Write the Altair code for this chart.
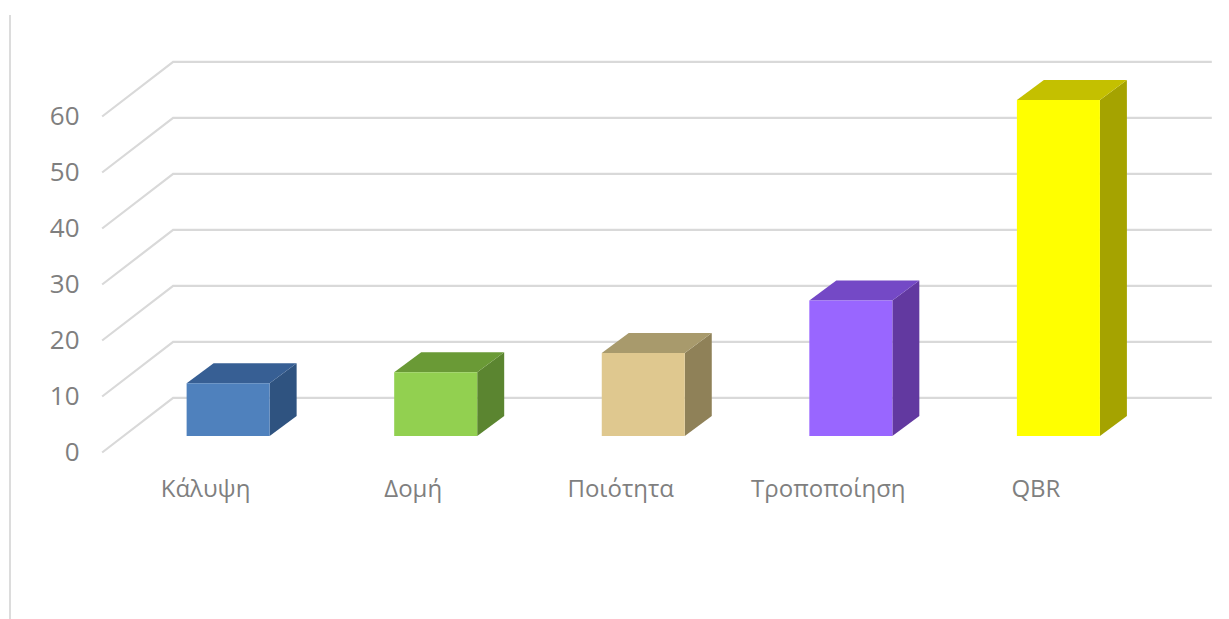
import altair as alt
import pandas as pd

categories = ["Κάλυψη", "Δομή", "Ποιότητα", "Τροποποίηση", "QBR"]
values = [9.4, 11.4, 14.8, 24.2, 60.0]
ticks = [0, 10, 20, 30, 40, 50, 60]
front_colors = ["#4f81bd", "#92d050", "#dfc88f", "#9966ff", "#ffff00"]
top_colors = ["#375f94", "#6a9a36", "#a89a6c", "#7449c6", "#c4c000"]
side_colors = ["#2f5380", "#5b8530", "#8f8158", "#6239a0", "#a5a300"]

# Oblique projection, in data units of the two scales
FLOOR_DX, FLOOR_DY = 0.342, 9.75
BAR_SHIFT, BAR_HALF = 0.111, 0.2
BAR_BASE = 2.95
BAR_DX, BAR_DY = 0.13, 3.57
GRID_START, GRID_END = -0.496, 4.85

x_scale = alt.Scale(domain=[-0.5545, 4.8895], nice=False, zero=False)
y_scale = alt.Scale(domain=[-3.125, 73.66], nice=False, zero=False)

grid_rows = []
for t in ticks:
    grid_rows += [
        {"tick": t, "step": 0, "x": GRID_START, "y": t},
        {"tick": t, "step": 1, "x": GRID_START + FLOOR_DX, "y": t + FLOOR_DY},
        {"tick": t, "step": 2, "x": GRID_END, "y": t + FLOOR_DY},
    ]
grid_df = pd.DataFrame(grid_rows)

front_rows, side_rows, top_rows = [], [], []
for i, (c, v) in enumerate(zip(categories, values)):
    left = i + BAR_SHIFT - BAR_HALF
    right = i + BAR_SHIFT + BAR_HALF
    bottom, top = BAR_BASE, BAR_BASE + v
    front_rows.append({"cat": c, "x": left, "x2": right, "y": bottom, "y2": top,
                       "fill": front_colors[i]})
    side_rows += [
        {"cat": c, "x": right, "y": bottom, "y2": top, "fill": side_colors[i]},
        {"cat": c, "x": right + BAR_DX, "y": bottom + BAR_DY, "y2": top + BAR_DY,
         "fill": side_colors[i]},
    ]
    top_rows += [
        {"cat": c, "y": top, "x": left, "x2": right, "fill": top_colors[i]},
        {"cat": c, "y": top + BAR_DY, "x": left + BAR_DX, "x2": right + BAR_DX,
         "fill": top_colors[i]},
    ]

label_expr = "[" + ",".join(f"'{c}'" for c in categories) + "][datum.value]"

x_axis = alt.Axis(
    values=list(range(len(categories))), labelExpr=label_expr, title=None,
    grid=False, domain=False, ticks=False, labelPadding=19, labelBaseline="middle",
    labelFont="Open Sans", labelFontSize=24, labelColor="#7f7f7f",
    labelOverlap=False, labelFlush=False,
)
y_axis = alt.Axis(
    values=ticks, title=None, grid=False, domain=False, ticks=False, labelPadding=11,
    labelFont="Open Sans", labelFontSize=26, labelColor="#7f7f7f",
    labelOverlap=False, labelFlush=False,
)

# Outer frame line down the left side of the figure
frame = alt.Chart(pd.DataFrame({"a": [0]})).mark_rule(color="#dcdcdc", strokeWidth=2).encode(
    x=alt.value(-80), y=alt.value(-25), y2=alt.value(579)
)

grid = alt.Chart(grid_df).mark_line(color="#d9d9d9", strokeWidth=2.2, interpolate="linear").encode(
    x=alt.X("x:Q", scale=x_scale, axis=x_axis),
    y=alt.Y("y:Q", scale=y_scale, axis=y_axis),
    detail="tick:N",
    order="step:Q",
)

fronts = alt.Chart(pd.DataFrame(front_rows)).mark_rect().encode(
    x=alt.X("x:Q", scale=x_scale, axis=x_axis),
    x2="x2:Q",
    y=alt.Y("y:Q", scale=y_scale, axis=y_axis),
    y2="y2:Q",
    color=alt.Color("fill:N", scale=None),
)

sides = alt.Chart(pd.DataFrame(side_rows)).mark_area(interpolate="linear").encode(
    x=alt.X("x:Q", scale=x_scale, axis=x_axis),
    y=alt.Y("y:Q", scale=y_scale, axis=y_axis, stack=None),
    y2="y2:Q",
    detail="cat:N",
    color=alt.Color("fill:N", scale=None),
)

tops = alt.Chart(pd.DataFrame(top_rows)).mark_area(interpolate="linear", orient="horizontal").encode(
    y=alt.Y("y:Q", scale=y_scale, axis=y_axis),
    x=alt.X("x:Q", scale=x_scale, axis=x_axis, stack=None),
    x2="x2:Q",
    detail="cat:N",
    color=alt.Color("fill:N", scale=None),
)

chart = (
    alt.layer(frame, grid, sides, tops, fronts)
    .properties(
        width=1130,
        height=430,
        padding={"left": 90, "top": 40, "right": 9, "bottom": 149},
        autosize=alt.AutoSizeParams(type="none"),
        background="#ffffff",
    )
    .configure_view(stroke=None)
)

chart.save("out.html", embed_options={"renderer": "svg", "actions": False})
